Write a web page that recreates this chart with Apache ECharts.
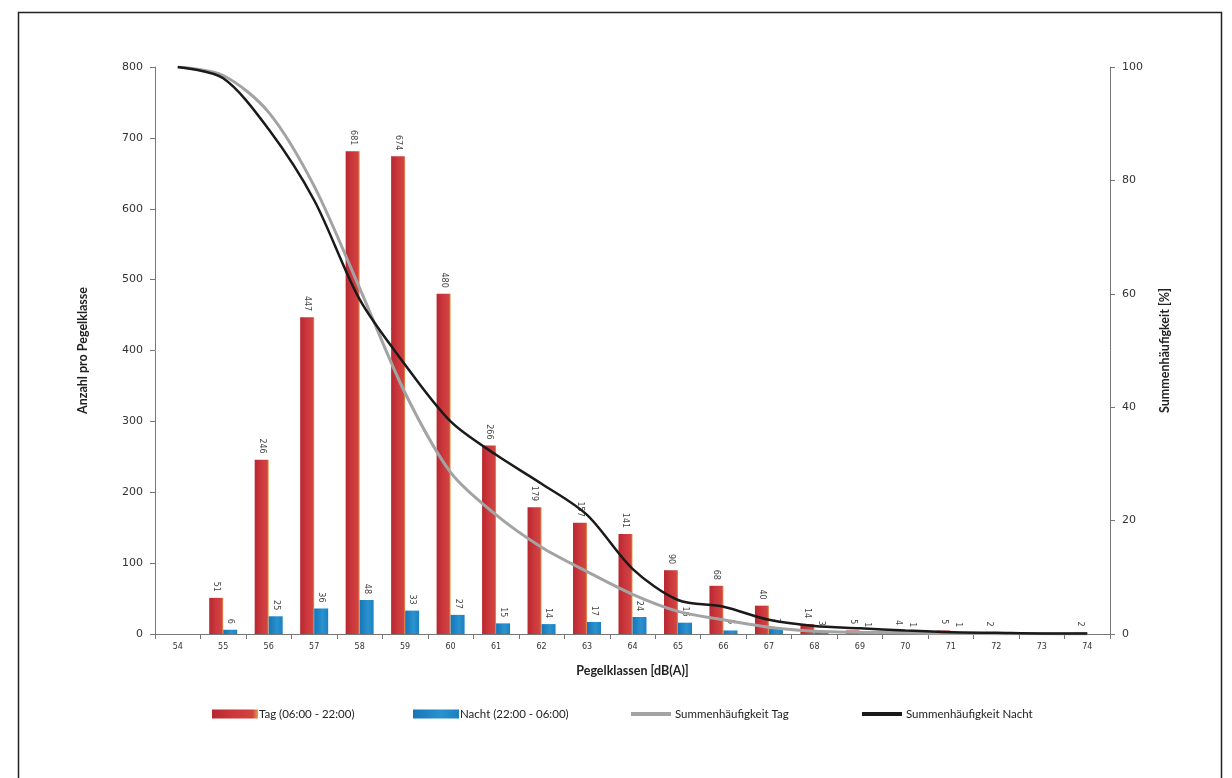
<!DOCTYPE html>
<html>
<head>
<meta charset="utf-8">
<script src="https://cdn.jsdelivr.net/npm/echarts@6/dist/echarts.min.js"></script>
<style>
html,body{margin:0;padding:0;background:#fff;}
#chart{width:1232px;height:778px;}
</style>
</head>
<body>
<div id="chart"></div>
<script>
// ---- data ----
const categories = ['54','55','56','57','58','59','60','61','62','63','64','65','66','67','68','69','70','71','72','73','74'];
const tagCounts   = [null, 51, 246, 447, 681, 674, 480, 266, 179, 157, 141, 90, 68, 40, 14, 5, 4, 5, 2, null, 2];
const nachtCounts = [null, 6, 25, 36, 48, 33, 27, 15, 14, 17, 24, 16, 5, 7, 3, 1, 1, 1, null, null, null];
const cumTag   = [100, 98.5, 92, 79, 61, 42.5, 28.5, 21, 15.3, 11, 7, 4, 2.5, 1.2, 0.5, 0.3, 0.2, 0.1, 0.05, 0.03, 0];
const cumNacht = [100, 98, 89, 76.5, 59, 47.5, 37.5, 31.6, 26.5, 21, 11.5, 6, 4.8, 2.5, 1.4, 1, 0.6, 0.3, 0.2, 0.1, 0.1];
const leftTicks = [0, 800, 100];
const rightTicks = [0, 100, 20];

const numFont = 'DejaVu Sans';
const txtFont = 'Lato';

const chart = echarts.init(document.getElementById('chart'), null, {renderer: 'canvas'});

const redGrad = new echarts.graphic.LinearGradient(0, 0, 1, 0, [
  {offset: 0, color: '#b82830'},
  {offset: 0.5, color: '#cc383d'},
  {offset: 0.88, color: '#d0443f'},
  {offset: 1, color: '#e69a4e'}
]);
const blueGrad = new echarts.graphic.LinearGradient(0, 0, 1, 0, [
  {offset: 0, color: '#1576b8'},
  {offset: 0.6, color: '#2a92cf'},
  {offset: 1, color: '#1c80c0'}
]);

const barLabel = {
  show: true,
  position: 'top',
  rotate: -90,
  align: 'right',
  verticalAlign: 'middle',
  distance: 6,
  fontFamily: numFont,
  fontSize: 8,
  color: '#444'
};

function legendAt(name, left, icon, w, h) {
  return {
    data: [{name: name, icon: icon}],
    left: left,
    top: 708,
    padding: 0,
    itemWidth: w,
    itemHeight: h,
    itemGap: 0,
    textStyle: {fontFamily: txtFont, fontSize: 11.5, color: '#222', padding: [0, 0, 0, -4]},
    selectedMode: false
  };
}

const option = {
  animation: false,
  backgroundColor: '#fff',
  graphic: [{
    type: 'rect',
    shape: {x: 18.5, y: 12.5, width: 1203, height: 790},
    style: {fill: 'none', stroke: '#222', lineWidth: 1.5},
    silent: true
  }],
  legend: [
    legendAt('Tag (06:00 - 22:00)', 212, 'rect', 46, 9),
    legendAt('Nacht (22:00 - 06:00)', 413, 'rect', 46, 9),
    legendAt('Summenhäufigkeit Tag', 631, 'path://M0,0H10V1H0Z', 46, 4),
    legendAt('Summenhäufigkeit Nacht', 862, 'path://M0,0H10V1H0Z', 46, 4)
  ],
  grid: {left: 155, right: 122, top: 67, bottom: 144, containLabel: false},
  xAxis: {
    type: 'category',
    data: categories,
    boundaryGap: true,
    name: 'Pegelklassen [dB(A)]',
    nameLocation: 'middle',
    nameGap: 30,
    nameTextStyle: {fontFamily: txtFont, fontWeight: 'bold', fontSize: 12.5, color: '#222'},
    axisLine: {lineStyle: {color: '#777', width: 1}},
    axisTick: {show: true, length: 5, lineStyle: {color: '#777'}},
    axisLabel: {fontFamily: numFont, fontSize: 8, color: '#333', margin: 9}
  },
  yAxis: [{
    type: 'value',
    min: leftTicks[0], max: leftTicks[1], interval: leftTicks[2],
    name: 'Anzahl pro Pegelklasse',
    nameLocation: 'middle',
    nameGap: 66,
    nameTextStyle: {fontFamily: txtFont, fontWeight: 'bold', fontSize: 12.5, color: '#222'},
    axisLine: {show: true, lineStyle: {color: '#777'}},
    axisTick: {show: true, length: 5, lineStyle: {color: '#777'}},
    axisLabel: {fontFamily: numFont, fontSize: 11, color: '#333', margin: 12},
    splitLine: {show: false}
  }, {
    type: 'value',
    min: rightTicks[0], max: rightTicks[1], interval: rightTicks[2],
    name: 'Summenhäufigkeit [%]',
    nameLocation: 'middle',
    nameGap: 48,
    nameRotate: 90,
    nameTextStyle: {fontFamily: txtFont, fontWeight: 'bold', fontSize: 12.5, color: '#222'},
    axisLine: {show: true, lineStyle: {color: '#777'}},
    axisTick: {show: true, length: 5, lineStyle: {color: '#777'}},
    axisLabel: {fontFamily: numFont, fontSize: 11, color: '#333', margin: 12},
    splitLine: {show: false}
  }],
  series: [{
    name: 'Tag (06:00 - 22:00)',
    type: 'bar',
    data: tagCounts,
    barWidth: 14,
    barGap: '0%',
    itemStyle: {color: redGrad},
    label: barLabel
  }, {
    name: 'Nacht (22:00 - 06:00)',
    type: 'bar',
    data: nachtCounts,
    barWidth: 14,
    itemStyle: {color: blueGrad},
    label: barLabel
  }, {
    name: 'Summenhäufigkeit Tag',
    type: 'line',
    yAxisIndex: 1,
    data: cumTag,
    smooth: 0.3,
    symbol: 'none',
    lineStyle: {color: '#a3a3a3', width: 3},
    itemStyle: {color: '#a3a3a3'},
    z: 5
  }, {
    name: 'Summenhäufigkeit Nacht',
    type: 'line',
    yAxisIndex: 1,
    data: cumNacht,
    smooth: 0.3,
    symbol: 'none',
    lineStyle: {color: '#1a1a1a', width: 2.5},
    itemStyle: {color: '#1a1a1a'},
    z: 6
  }]
};

chart.setOption(option);
</script>
</body>
</html>
